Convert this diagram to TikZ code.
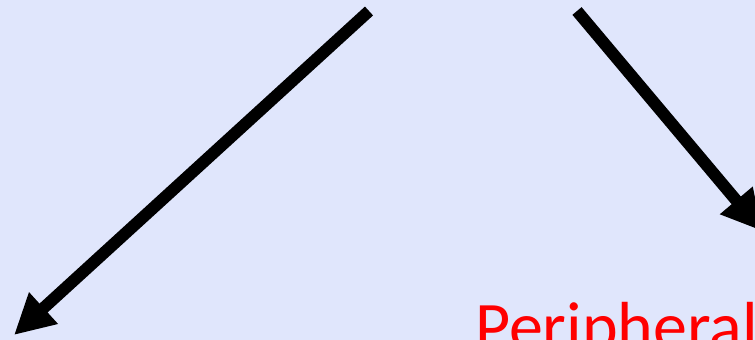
\documentclass[tikz,border=0pt]{standalone}
\usepackage{fontspec}
\setmainfont{Carlito}
\usetikzlibrary{arrows.meta}
\definecolor{bg}{RGB}{224,230,252}
\tikzset{
  bigarrow/.style={line width=12pt,-{Triangle[length=40pt,width=40pt]}},
  redlabel/.style={text=red,font=\fontsize{68}{74}\selectfont,anchor=base west,inner sep=0pt}
}
\begin{document}
\begin{tikzpicture}[x=1pt,y=-1pt]
\fill[bg] (0,0) rectangle (755,340);
\useasboundingbox (0,0) rectangle (755,340);
\coordinate (ls) at (369,11);
\coordinate (le) at (14,335);
\coordinate (rs) at (577,11);
\coordinate (re) at (762,231);
\draw[bigarrow] (ls) -- (le);
\draw[bigarrow] (rs) -- (re);
\node[redlabel] (p) at (475,349) {Peripheral};
\end{tikzpicture}
\end{document}
